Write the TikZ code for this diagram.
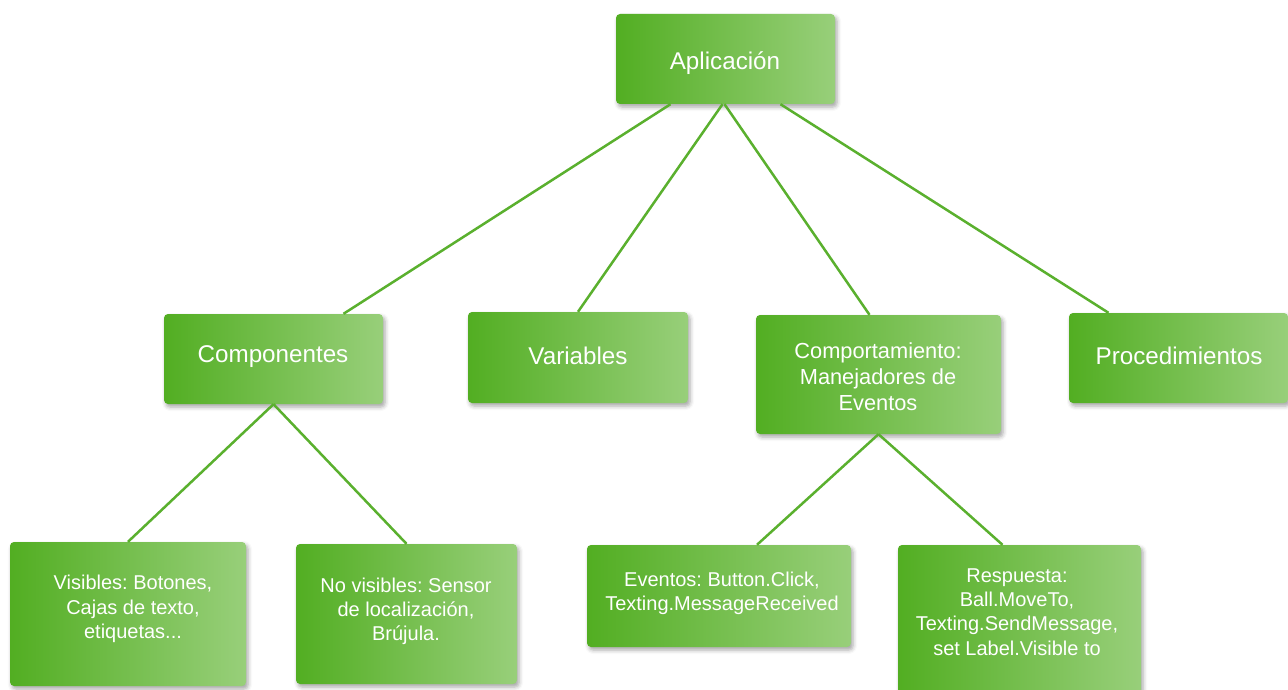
\documentclass[tikz,border=0pt]{standalone}
\usepackage{fontspec}
\setmainfont{Liberation Sans}
\usetikzlibrary{shadows.blur}
\definecolor{gl}{RGB}{82,174,34}
\definecolor{gr}{RGB}{152,207,122}
\definecolor{ln}{RGB}{90,176,46}
\tikzset{
  box/.style={rounded corners=4pt, left color=gl, right color=gr, draw=none,
    blur shadow={shadow xshift=2pt, shadow yshift=-3pt, shadow blur radius=4pt, shadow opacity=35},
    inner sep=0pt},
  big/.style={text=white, align=center, font=\frenchspacing\fontsize{24.2}{28}\selectfont},
  mid/.style={text=white, align=center, font=\frenchspacing\fontsize{21.8}{26}\selectfont},
  small/.style={text=white, align=center, font=\frenchspacing\fontsize{20}{24.3}\selectfont},
  conn/.style={draw=ln, line width=2.5pt}
}
\begin{document}
\begin{tikzpicture}[x=1pt,y=-1pt]
\useasboundingbox (0,0) rectangle (1288,690);
\clip (0,0) rectangle (1288,690);
% boxes
\node[box, minimum width=219pt, minimum height=90pt] (app) at (725.5,59) {};
\node[box, minimum width=219pt, minimum height=90pt] (comp) at (273.5,359) {};
\node[box, minimum width=220pt, minimum height=91pt] (var) at (578,357.5) {};
\node[box, minimum width=245pt, minimum height=119pt] (beh) at (878.5,374.5) {};
\node[box, minimum width=219pt, minimum height=90pt] (proc) at (1178.5,358) {};
\node[box, minimum width=236pt, minimum height=144pt] (vis) at (128,614) {};
\node[box, minimum width=221pt, minimum height=140pt] (novis) at (406.5,614) {};
\node[box, minimum width=264pt, minimum height=102pt] (ev) at (719,596) {};
\node[box, minimum width=243pt, minimum height=160pt] (resp) at (1019.5,625) {};
% connectors
\draw[conn] ([xshift=-55pt]app.south) -- ([xshift=70pt]comp.north);
\draw[conn] ([xshift=-3pt]app.south) -- (var.north);
\draw[conn] ([xshift=-1pt]app.south) -- ([xshift=-9pt]beh.north);
\draw[conn] ([xshift=55pt]app.south) -- ([xshift=-70pt]proc.north);
\draw[conn] (comp.south) -- (vis.north);
\draw[conn] (comp.south) -- (novis.north);
\draw[conn] (beh.south) -- ([xshift=38pt]ev.north);
\draw[conn] (beh.south) -- ([xshift=-17pt]resp.north);
% texts
\node[big] (tapp) at (725,63.5) {Aplicación};
\node[big] (tcomp) at (273,357) {Componentes};
\node[big] (tvar) at (578,356) {Variables};
\node[mid] (tbeh) at (878,377) {Comportamiento:\\Manejadores de\\Eventos};
\node[big] (tproc) at (1179,356) {Procedimientos};
\node[small] (tvis) at (133,609) {Visibles: Botones,\\Cajas de texto,\\etiquetas...};
\node[small] (tnovis) at (406,611.5) {No visibles: Sensor\\de localización,\\Brújula.};
\node[small] (tev) at (722,593) {Eventos: Button.Click,\\Texting.MessageReceived};
\node[small] (tresp) at (1017,612) {Respuesta:\\Ball.MoveTo,\\Texting.SendMessage,\\set Label.Visible to};
\end{tikzpicture}
\end{document}
